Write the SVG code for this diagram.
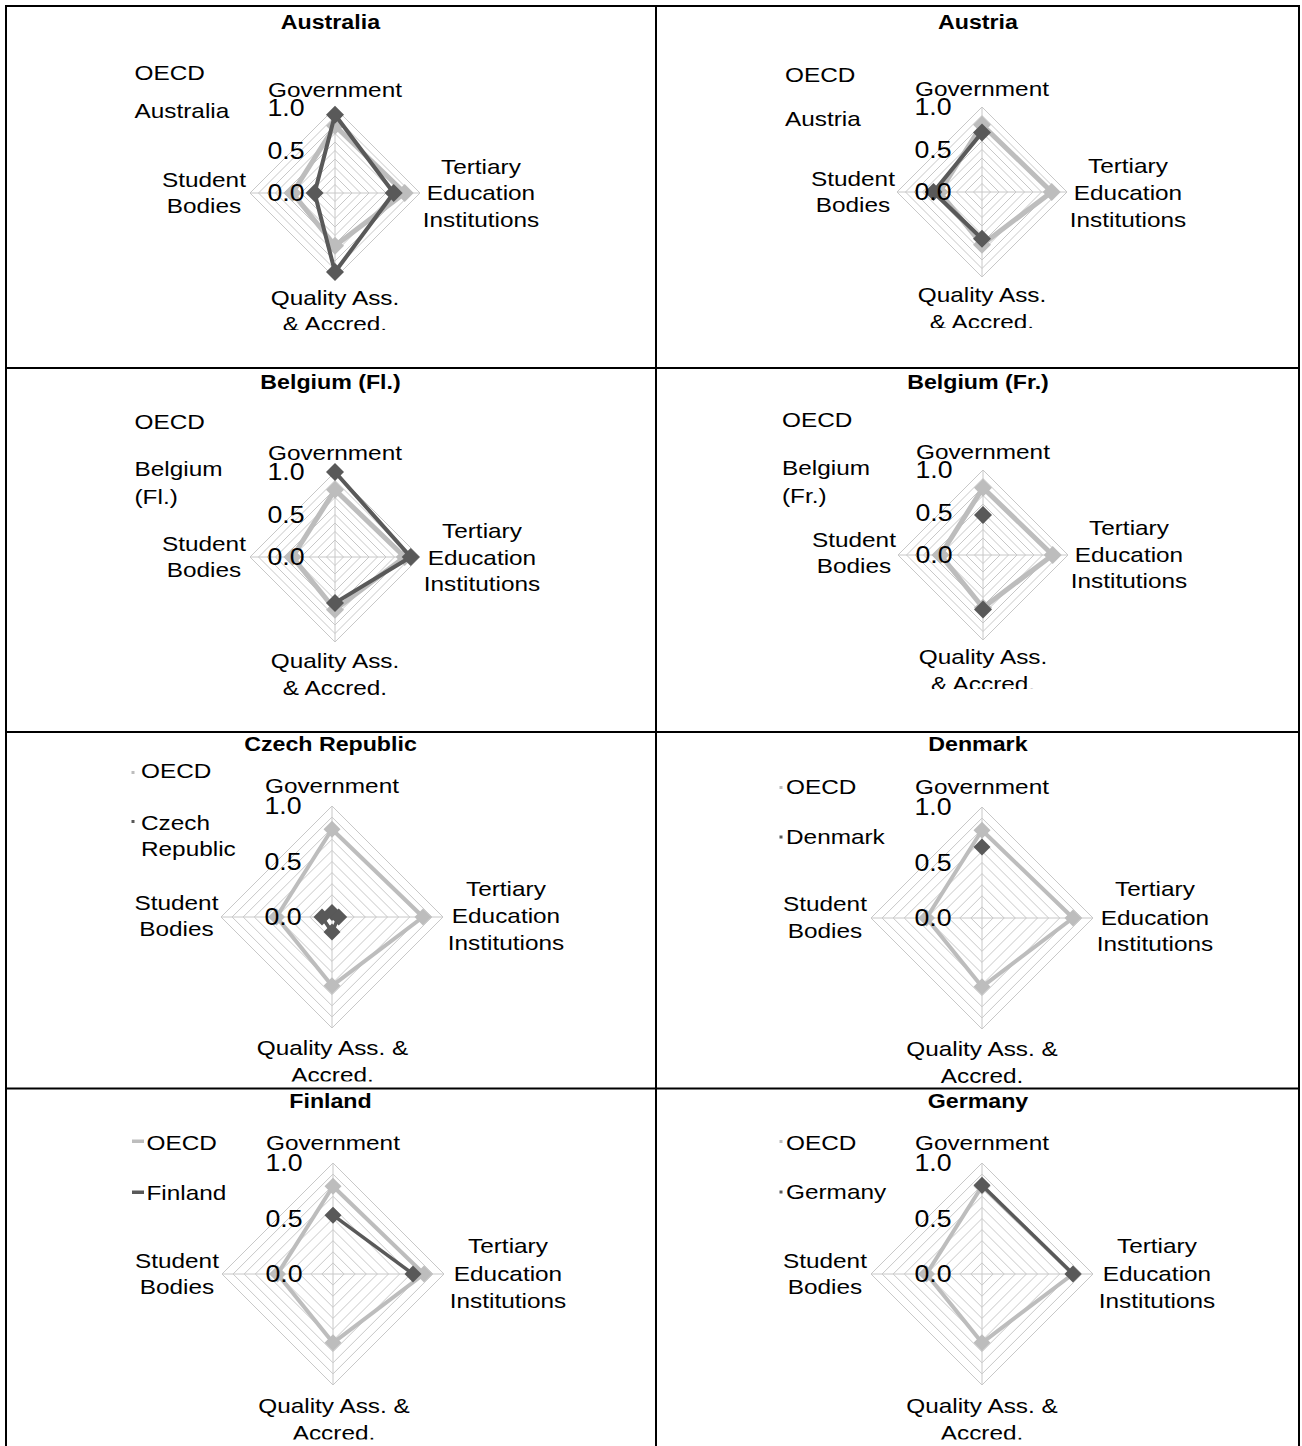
<svg xmlns="http://www.w3.org/2000/svg" xmlns:xlink="http://www.w3.org/1999/xlink" width="1302" height="1446" viewBox="0 0 1302 1446">
<style>
text { font-family: "Liberation Sans", Arial, sans-serif; fill: #000; transform-box: fill-box; transform: scaleX(1.16); }
.c { text-anchor: middle; transform-origin: center; }
.l { text-anchor: start; transform-origin: left center; }
.t { font-size: 20px; font-weight: bold; }
.a { font-size: 21px; }
.k { font-size: 23px; }
.o { fill: none; stroke: #bdbdbd; stroke-linejoin: round; }
.d { fill: none; stroke: #595959; stroke-linejoin: round; }
.s1 .o { stroke-width: 5; }
.s1 .d { stroke-width: 4; }
.s2 .o { stroke-width: 4; }
.s2 .d { stroke-width: 3.5; }
.om { fill: #bdbdbd; }
.dm { fill: #595959; }
.tbl line { stroke: #000; stroke-width: 2; }
</style>
<defs>
<path id="gs" fill="none" stroke="#c8c8c8" stroke-width="1" d="M0,-8.5L8.5,0L0,8.5L-8.5,0Z M0,-17L17,0L0,17L-17,0Z M0,-25.5L25.5,0L0,25.5L-25.5,0Z M0,-34L34,0L0,34L-34,0Z M0,-42.5L42.5,0L0,42.5L-42.5,0Z M0,-51L51,0L0,51L-51,0Z M0,-59.5L59.5,0L0,59.5L-59.5,0Z M0,-68L68,0L0,68L-68,0Z M0,-76.5L76.5,0L0,76.5L-76.5,0Z M0,-85L85,0L0,85L-85,0Z M0,-85V85M-85,0H85"/>
<path id="gl" fill="none" stroke="#c8c8c8" stroke-width="1" d="M0,-11.1L11.1,0L0,11.1L-11.1,0Z M0,-22.2L22.2,0L0,22.2L-22.2,0Z M0,-33.3L33.3,0L0,33.3L-33.3,0Z M0,-44.4L44.4,0L0,44.4L-44.4,0Z M0,-55.5L55.5,0L0,55.5L-55.5,0Z M0,-66.6L66.6,0L0,66.6L-66.6,0Z M0,-77.7L77.7,0L0,77.7L-77.7,0Z M0,-88.8L88.8,0L0,88.8L-88.8,0Z M0,-99.9L99.9,0L0,99.9L-99.9,0Z M0,-111L111,0L0,111L-111,0Z M0,-111V111M-111,0H111"/>
<path id="mS" d="M0,-9L9,0L0,9L-9,0Z"/>
<path id="mL" d="M0,-8.5L8.5,0L0,8.5L-8.5,0Z"/>
<clipPath id="kA" clipPathUnits="userSpaceOnUse"><rect x="6" y="6" width="650" height="324"/></clipPath>
<clipPath id="kB" clipPathUnits="userSpaceOnUse"><rect x="656" y="6" width="643" height="322"/></clipPath>
<clipPath id="kC" clipPathUnits="userSpaceOnUse"><rect x="6" y="368" width="650" height="327"/></clipPath>
<clipPath id="kD" clipPathUnits="userSpaceOnUse"><rect x="656" y="368" width="643" height="321"/></clipPath>
<clipPath id="kE" clipPathUnits="userSpaceOnUse"><rect x="6" y="732" width="650" height="349.5"/></clipPath>
<clipPath id="kF" clipPathUnits="userSpaceOnUse"><rect x="656" y="732" width="643" height="351"/></clipPath>
<clipPath id="kG" clipPathUnits="userSpaceOnUse"><rect x="6" y="1089" width="650" height="350.5"/></clipPath>
<clipPath id="kH" clipPathUnits="userSpaceOnUse"><rect x="656" y="1089" width="643" height="350.5"/></clipPath>
</defs>
<rect x="0" y="0" width="1302" height="1446" fill="#fff"/>

<g id="table" class="tbl">
<line x1="5" y1="6" x2="1300" y2="6"/>
<line x1="5" y1="368" x2="1300" y2="368"/>
<line x1="5" y1="732" x2="1300" y2="732"/>
<line x1="5" y1="1088.5" x2="1300" y2="1088.5"/>
<line x1="6" y1="5" x2="6" y2="1446"/>
<line x1="656" y1="5" x2="656" y2="1446"/>
<line x1="1299" y1="5" x2="1299" y2="1446"/>
</g>

<g id="australia" class="s1">
<text class="t c" x="330.5" y="29">Australia</text>
<text class="a l" x="134.5" y="80">OECD</text>
<text class="a l" x="134.5" y="118">Australia</text>
<use href="#gs" x="335" y="193"/>
<path class="o" d="M335,125.8L404.7,193L335,245.7L292.5,193Z"/>
<g class="om"><use href="#mS" x="335" y="125.8"/><use href="#mS" x="404.7" y="193"/><use href="#mS" x="335" y="245.7"/><use href="#mS" x="292.5" y="193"/></g>
<path class="d" d="M335,114.8L393.7,193L335,272L314.6,193Z"/>
<g class="dm"><use href="#mS" x="335" y="114.8"/><use href="#mS" x="393.7" y="193"/><use href="#mS" x="335" y="272"/><use href="#mS" x="314.6" y="193"/></g>
<text class="a c" x="335" y="97">Government</text>
<text class="k c" x="286" y="116.5">1.0</text>
<text class="k c" x="286" y="159">0.5</text>
<text class="k c" x="286" y="201.5">0.0</text>
<text class="a c" x="204" y="187">Student</text>
<text class="a c" x="204" y="213">Bodies</text>
<text class="a c" x="481" y="174">Tertiary</text>
<text class="a c" x="481" y="200">Education</text>
<text class="a c" x="481" y="227">Institutions</text>
<g clip-path="url(#kA)">
<text class="a c" x="335" y="305">Quality Ass.</text>
<text class="a c" x="335" y="331.5">&amp; Accred.</text>
</g>
</g>

<g id="austria" class="s1">
<text class="t c" x="978" y="29">Austria</text>
<text class="a l" x="785" y="82">OECD</text>
<text class="a l" x="785" y="126">Austria</text>
<use href="#gs" x="982" y="192"/>
<path class="o" d="M982,124.8L1051.7,192L982,244.7L939.5,192Z"/>
<g class="om"><use href="#mS" x="982" y="124.8"/><use href="#mS" x="1051.7" y="192"/><use href="#mS" x="982" y="244.7"/><use href="#mS" x="939.5" y="192"/></g>
<path class="d" d="M982,238.8L933.5,192L982,132.5"/>
<g class="dm"><use href="#mS" x="982" y="132.5"/><use href="#mS" x="982" y="238.8"/><use href="#mS" x="933.5" y="192"/></g>
<text class="a c" x="982" y="96.5">Government</text>
<text class="k c" x="933" y="115.5">1.0</text>
<text class="k c" x="933" y="158">0.5</text>
<text class="k c" x="933" y="200.5">0.0</text>
<text class="a c" x="853" y="186">Student</text>
<text class="a c" x="853" y="212">Bodies</text>
<text class="a c" x="1128" y="173">Tertiary</text>
<text class="a c" x="1128" y="200">Education</text>
<text class="a c" x="1128" y="227">Institutions</text>
<g clip-path="url(#kB)">
<text class="a c" x="982" y="302">Quality Ass.</text>
<text class="a c" x="982" y="329.5">&amp; Accred.</text>
</g>
</g>

<g id="belgium-fl" class="s1">
<text class="t c" x="330.5" y="389">Belgium (Fl.)</text>
<text class="a l" x="134.5" y="429">OECD</text>
<text class="a l" x="134.5" y="476">Belgium</text>
<text class="a l" x="134.5" y="504">(Fl.)</text>
<use href="#gs" x="335" y="557"/>
<path class="o" d="M335,489.8L404.7,557L335,609.7L292.5,557Z"/>
<g class="om"><use href="#mS" x="335" y="489.8"/><use href="#mS" x="404.7" y="557"/><use href="#mS" x="335" y="609.7"/><use href="#mS" x="292.5" y="557"/></g>
<path class="d" d="M335,472L410.7,557L335,602.9"/>
<g class="dm"><use href="#mS" x="335" y="472"/><use href="#mS" x="410.7" y="557"/><use href="#mS" x="335" y="602.9"/></g>
<text class="a c" x="335" y="460">Government</text>
<text class="k c" x="286" y="480.5">1.0</text>
<text class="k c" x="286" y="523">0.5</text>
<text class="k c" x="286" y="565.5">0.0</text>
<text class="a c" x="204" y="551.5">Student</text>
<text class="a c" x="204" y="577">Bodies</text>
<text class="a c" x="482" y="538">Tertiary</text>
<text class="a c" x="482" y="565">Education</text>
<text class="a c" x="482" y="591.5">Institutions</text>
<g clip-path="url(#kC)">
<text class="a c" x="335" y="668">Quality Ass.</text>
<text class="a c" x="335" y="695.5">&amp; Accred.</text>
</g>
</g>

<g id="belgium-fr" class="s1">
<text class="t c" x="978" y="389">Belgium (Fr.)</text>
<text class="a l" x="782" y="427">OECD</text>
<text class="a l" x="782" y="475">Belgium</text>
<text class="a l" x="782" y="503">(Fr.)</text>
<use href="#gs" x="983" y="555"/>
<path class="o" d="M983,487.8L1052.7,555L983,607.7L940.5,555Z"/>
<g class="om"><use href="#mS" x="983" y="487.8"/><use href="#mS" x="1052.7" y="555"/><use href="#mS" x="983" y="607.7"/><use href="#mS" x="940.5" y="555"/></g>
<g class="dm"><use href="#mS" x="983" y="515"/><use href="#mS" x="983" y="609.4"/></g>
<text class="a c" x="983" y="459">Government</text>
<text class="k c" x="934" y="478.5">1.0</text>
<text class="k c" x="934" y="521">0.5</text>
<text class="k c" x="934" y="563.5">0.0</text>
<text class="a c" x="854" y="547">Student</text>
<text class="a c" x="854" y="573">Bodies</text>
<text class="a c" x="1129" y="535">Tertiary</text>
<text class="a c" x="1129" y="562">Education</text>
<text class="a c" x="1129" y="588">Institutions</text>
<g clip-path="url(#kD)">
<text class="a c" x="983" y="664">Quality Ass.</text>
<text class="a c" x="983" y="691">&amp; Accred.</text>
</g>
</g>

<g id="czech-republic" class="s2">
<text class="t c" x="330.5" y="751">Czech Republic</text>
<rect class="om" x="131.5" y="771" width="3" height="3"/>
<rect class="dm" x="131.5" y="820" width="3" height="3"/>
<text class="a l" x="141" y="778">OECD</text>
<text class="a l" x="141" y="830">Czech</text>
<text class="a l" x="141" y="856.5">Republic</text>
<use href="#gl" x="332" y="917"/>
<path class="o" d="M332,829.3L423,917L332,985.8L276.5,917Z"/>
<g class="om"><use href="#mL" x="332" y="829.3"/><use href="#mL" x="423" y="917"/><use href="#mL" x="332" y="985.8"/><use href="#mL" x="276.5" y="917"/></g>
<path class="d" d="M332,912.6L338.7,917L332,932L322,917Z"/>
<g class="dm"><use href="#mL" x="332" y="912.6"/><use href="#mL" x="338.7" y="917"/><use href="#mL" x="332" y="932"/><use href="#mL" x="322" y="917"/></g>
<text class="a c" x="332" y="793">Government</text>
<text class="k c" x="283" y="814.5">1.0</text>
<text class="k c" x="283" y="870">0.5</text>
<text class="k c" x="283" y="925.5">0.0</text>
<text class="a c" x="176.5" y="910">Student</text>
<text class="a c" x="176.5" y="936.5">Bodies</text>
<text class="a c" x="506" y="896.5">Tertiary</text>
<text class="a c" x="506" y="923.5">Education</text>
<text class="a c" x="506" y="950">Institutions</text>
<g clip-path="url(#kE)">
<text class="a c" x="332.5" y="1055">Quality Ass. &amp;</text>
<text class="a c" x="332.5" y="1082">Accred.</text>
</g>
</g>

<g id="denmark" class="s2">
<text class="t c" x="978" y="751">Denmark</text>
<rect class="om" x="779.5" y="786" width="3" height="3"/>
<rect class="dm" x="779.5" y="835.5" width="3" height="3"/>
<text class="a l" x="786" y="794">OECD</text>
<text class="a l" x="786" y="844">Denmark</text>
<use href="#gl" x="982" y="918"/>
<path class="o" d="M982,830.3L1073,918L982,986.8L926.5,918Z"/>
<g class="om"><use href="#mL" x="982" y="830.3"/><use href="#mL" x="1073" y="918"/><use href="#mL" x="982" y="986.8"/><use href="#mL" x="926.5" y="918"/></g>
<g class="dm"><use href="#mL" x="982" y="847"/></g>
<text class="a c" x="982" y="794">Government</text>
<text class="k c" x="933" y="815.5">1.0</text>
<text class="k c" x="933" y="871">0.5</text>
<text class="k c" x="933" y="926.5">0.0</text>
<text class="a c" x="825" y="911.5">Student</text>
<text class="a c" x="825" y="938">Bodies</text>
<text class="a c" x="1155" y="896.5">Tertiary</text>
<text class="a c" x="1155" y="925">Education</text>
<text class="a c" x="1155" y="951.5">Institutions</text>
<g clip-path="url(#kF)">
<text class="a c" x="982" y="1056.5">Quality Ass. &amp;</text>
<text class="a c" x="982" y="1083.5">Accred.</text>
</g>
</g>

<g id="finland" class="s2">
<text class="t c" x="330.5" y="1108.5">Finland</text>
<rect class="om" x="132" y="1139.5" width="12" height="3.5"/>
<rect class="dm" x="132" y="1190.5" width="12" height="3.5"/>
<text class="a l" x="146.5" y="1150">OECD</text>
<text class="a l" x="146.5" y="1200.5">Finland</text>
<use href="#gl" x="333" y="1274"/>
<path class="o" d="M333,1186.3L424,1274L333,1342.8L277.5,1274Z"/>
<g class="om"><use href="#mL" x="333" y="1186.3"/><use href="#mL" x="424" y="1274"/><use href="#mL" x="333" y="1342.8"/><use href="#mL" x="277.5" y="1274"/></g>
<path class="d" d="M333,1215.2L413,1274"/>
<g class="dm"><use href="#mL" x="333" y="1215.2"/><use href="#mL" x="413" y="1274"/></g>
<text class="a c" x="333" y="1150">Government</text>
<text class="k c" x="284" y="1171.5">1.0</text>
<text class="k c" x="284" y="1227">0.5</text>
<text class="k c" x="284" y="1282.5">0.0</text>
<text class="a c" x="177" y="1268">Student</text>
<text class="a c" x="177" y="1294.5">Bodies</text>
<text class="a c" x="508" y="1253.5">Tertiary</text>
<text class="a c" x="508" y="1281">Education</text>
<text class="a c" x="508" y="1308">Institutions</text>
<g clip-path="url(#kG)">
<text class="a c" x="334" y="1413">Quality Ass. &amp;</text>
<text class="a c" x="334" y="1440">Accred.</text>
</g>
</g>

<g id="germany" class="s2">
<text class="t c" x="978" y="1108">Germany</text>
<rect class="om" x="779.5" y="1140" width="3" height="3"/>
<rect class="dm" x="779.5" y="1190.5" width="3" height="3"/>
<text class="a l" x="786" y="1150">OECD</text>
<text class="a l" x="786" y="1199.5">Germany</text>
<use href="#gl" x="982" y="1274"/>
<path class="o" d="M982,1186.3L1073,1274L982,1342.8L926.5,1274Z"/>
<g class="om"><use href="#mL" x="982" y="1186.3"/><use href="#mL" x="1073" y="1274"/><use href="#mL" x="982" y="1342.8"/><use href="#mL" x="926.5" y="1274"/></g>
<path class="d" d="M982,1185.2L1073,1274"/>
<g class="dm"><use href="#mL" x="982" y="1185.2"/><use href="#mL" x="1073" y="1274"/></g>
<text class="a c" x="982" y="1150">Government</text>
<text class="k c" x="933" y="1171.5">1.0</text>
<text class="k c" x="933" y="1227">0.5</text>
<text class="k c" x="933" y="1282.5">0.0</text>
<text class="a c" x="825" y="1268">Student</text>
<text class="a c" x="825" y="1294.5">Bodies</text>
<text class="a c" x="1157" y="1253.5">Tertiary</text>
<text class="a c" x="1157" y="1281">Education</text>
<text class="a c" x="1157" y="1308">Institutions</text>
<g clip-path="url(#kH)">
<text class="a c" x="982" y="1413">Quality Ass. &amp;</text>
<text class="a c" x="982" y="1440">Accred.</text>
</g>
</g>
</svg>
